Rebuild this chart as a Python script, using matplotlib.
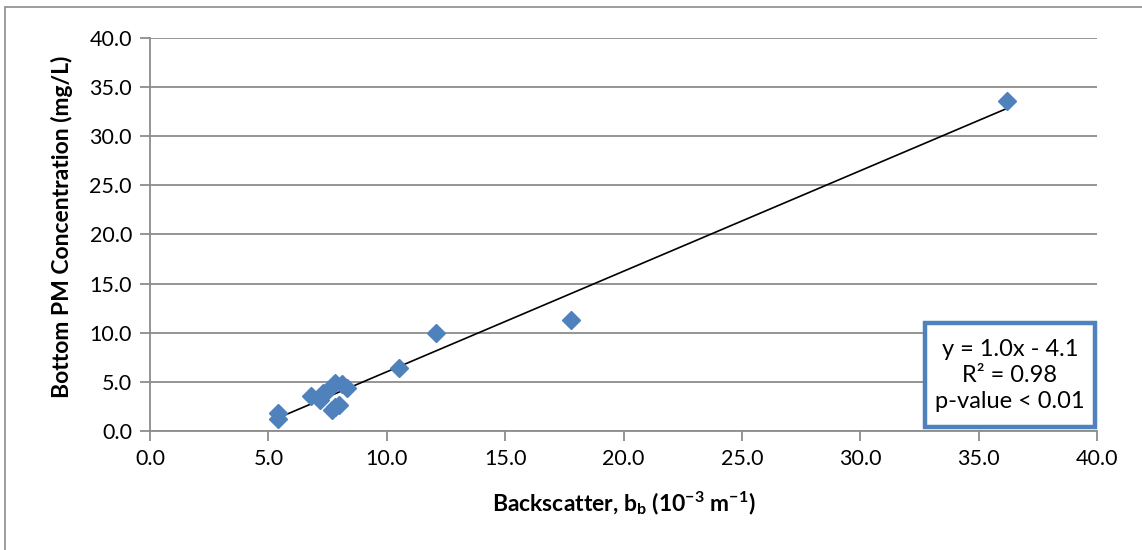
import numpy as np
import matplotlib
matplotlib.use('Agg')
import matplotlib.pyplot as plt
from matplotlib.patches import Rectangle

plt.rcParams['font.family'] = ['Lato', 'DejaVu Sans']
plt.rcParams['mathtext.fontset'] = 'custom'
plt.rcParams['mathtext.rm'] = 'Lato'
plt.rcParams['mathtext.bf'] = 'Lato:bold'

# backscatter (10^-3 m^-1) vs bottom PM concentration (mg/L)
backscatter = [5.4, 5.4, 6.8, 7.2, 7.3, 7.5, 7.8, 7.7, 7.8, 8.0, 8.1, 8.3,
               10.5, 12.1, 17.8, 36.2]
pm_conc = [1.2, 1.8, 3.6, 3.2, 3.9, 4.2, 4.9, 2.1, 2.4, 2.6, 4.8, 4.4,
           6.4, 10.0, 11.3, 33.6]
fit_text = 'y = 1.0x - 4.1\nR² = 0.98\np-value < 0.01'

blue = '#4F81BD'
grey = '#8C8C8C'

fig = plt.figure(figsize=(11.42, 5.5), dpi=100)
fig.patches.append(Rectangle((5 / 1142, -0.1), 1.2, 1 - 7 / 550 + 0.1,
                             transform=fig.transFigure, fill=False,
                             edgecolor=grey, linewidth=1.2))
ax = fig.add_axes([150 / 1142, 119 / 550, 947 / 1142, 393 / 550])

x = np.array(backscatter)
y = np.array(pm_conc)
slope, icpt = np.polyfit(x, y, 1)
xl = np.array([x.min(), x.max()])
ax.plot(xl, slope * xl + icpt, color='black', lw=1.2, zorder=2)
ax.plot(x, y, 'D', color=blue, ms=9.5, mec=blue, zorder=3)

ax.set_xlim(0, 40)
ax.set_ylim(0, 40)
ax.set_xticks(np.arange(0, 40.1, 5))
ax.set_yticks(np.arange(0, 40.1, 5))
ax.xaxis.set_major_formatter(lambda v, p: f'{v:.1f}')
ax.yaxis.set_major_formatter(lambda v, p: f'{v:.1f}')
ax.tick_params(labelsize=15.5, color=grey, length=7, width=1.3, pad=6)
ax.grid(axis='y', color=grey, lw=1.3)
ax.set_axisbelow(True)
for s in ['top', 'right']:
    ax.spines[s].set_visible(False)
for s in ['left', 'bottom']:
    ax.spines[s].set_color(grey)
    ax.spines[s].set_linewidth(1.3)

ax.set_xlabel(r'Backscatter, $\mathbf{b_b}$ (10$\mathbf{^{-3}}$ m$\mathbf{^{-1}}$)',
              fontsize=16.5, fontweight='bold', labelpad=15)
ax.set_ylabel('Bottom PM Concentration (mg/L)', fontsize=16.5,
              fontweight='bold', labelpad=12)
ax.yaxis.label.set_y(0.52)

ax.add_patch(Rectangle((0.818, 0.01), 0.18, 0.265, transform=ax.transAxes,
                       facecolor='white', edgecolor=blue, lw=3.2,
                       zorder=5, clip_on=False))
ax.text(0.908, 0.142, fit_text, transform=ax.transAxes, ha='center',
        va='center', fontsize=17, linespacing=1.3, zorder=6)

fig.savefig('out.png', dpi=100)
